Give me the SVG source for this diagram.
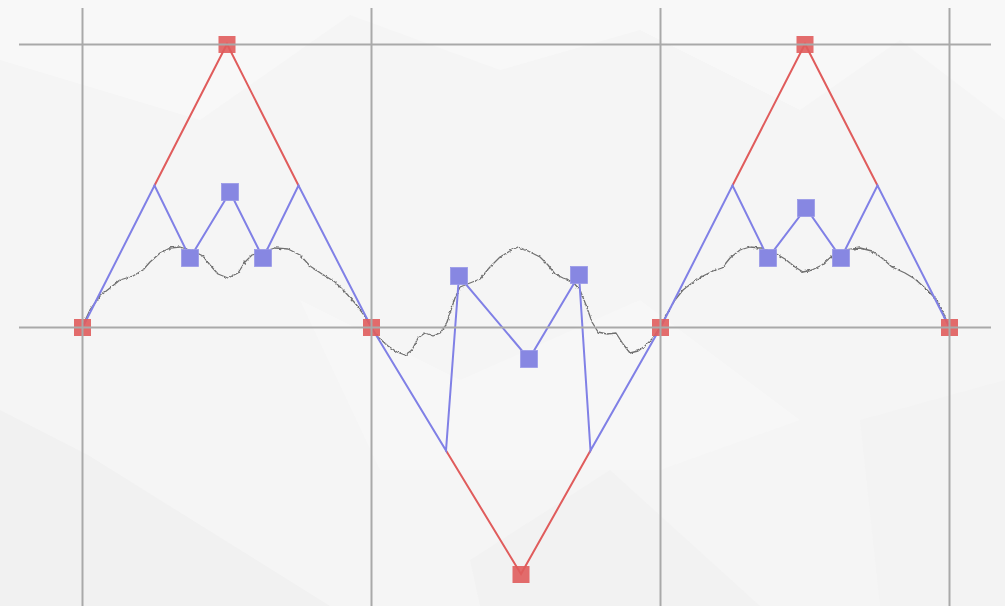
<svg xmlns="http://www.w3.org/2000/svg" width="1005" height="606" viewBox="0 0 1005 606">
<style>
.grid{stroke:#a9a9a9;stroke-width:2;fill:none}
.red{stroke:#e05c5c;stroke-width:2;fill:none;stroke-linecap:round}
.blue{stroke:#8080e6;stroke-width:2;fill:none;stroke-linejoin:miter;stroke-linecap:round}
.rsq{fill:#e05c5c;opacity:0.9}
.bsq{fill:#8787e2;stroke:#9a9ae8;stroke-width:0.8}
.noise{stroke:#707070;stroke-width:1.3;fill:none;stroke-linejoin:round}
</style>
<defs>
<filter id="rough" x="-5%" y="-30%" width="110%" height="160%">
<feTurbulence type="fractalNoise" baseFrequency="0.35" numOctaves="1" seed="4" result="t"/>
<feDisplacementMap in="SourceGraphic" in2="t" scale="3.2" xChannelSelector="R" yChannelSelector="G"/>
</filter>
</defs>
<g id="background">
<rect width="1005" height="606" fill="#f5f5f5"/>
<polygon points="0,0 1005,0 1005,120 900,40 800,110 640,30 500,70 350,15 200,120 0,60" fill="#f8f8f8"/>
<polygon points="0,410 88,455 330,606 0,606" fill="#f1f1f1"/>
<polygon points="300,300 460,380 640,300 800,420 660,470 380,470" fill="#f7f7f7"/>
<polygon points="470,560 610,470 760,606 480,606" fill="#f2f2f2"/>
<polygon points="860,420 1005,380 1005,606 880,606" fill="#f3f3f3"/>
</g>
<g id="connectors">
<polyline class="noise" filter="url(#rough)" points="82,327 90,310 100,296 110,288 120,280 133,276 143,270 150,262 160,253 170,248 180,247 193,251 203,256 210,265 218,274 228,278 238,273 245,262 252,255 262,252 275,248 288,249 300,255 310,266 322,274 335,282 345,292 355,303 364,315 371,327 378,337 388,346 397,352 405,355 412,350 418,338 425,333 433,336 440,333 446,325 450,313 455,298 460,287 470,283 480,279 490,267 500,257 510,251 518,247 528,251 540,257 548,265 555,274 563,278 572,281 580,290 586,305 592,322 598,332 607,334 616,333 623,344 630,353 638,351 645,346 653,338 660,327 668,312 675,300 683,290 692,283 703,276 713,271 722,268 730,258 740,250 750,247 760,248 773,252 785,259 795,267 803,272 812,270 822,265 832,256 845,250 860,248 872,251 882,258 892,267 905,273 915,279 925,288 935,298 943,312 949,327"/>
<polyline class="red" points="154.5,185.5 227,44 298.5,185.5"/>
<polyline class="red" points="446,450.5 521,574 590.5,450.5"/>
<polyline class="red" points="732.5,185.5 805,44 877.5,185.5"/>
<polyline class="blue" points="82.5,327.5 154.5,185.5 190,258 230,192 263,258 298.5,185.5 371.5,327.5"/>
<polyline class="blue" points="371.5,327.5 446,450.5 459,276 529,359 579,275 590.5,450.5 660.5,327.5"/>
<polyline class="blue" points="660.5,327.5 732.5,185.5 768,258 806,208 841,258 877.5,185.5 949.5,327.5"/>
</g>
<g id="node-r1"><rect class="rsq" x="218.5" y="36" width="17" height="17"/></g>
<g id="node-r2"><rect class="rsq" x="796.5" y="36" width="17" height="17"/></g>
<g id="node-r3"><rect class="rsq" x="512.5" y="566" width="17" height="17"/></g>
<g id="node-a1"><rect class="rsq" x="74" y="319" width="17" height="17" opacity="0.8"/></g>
<g id="node-a2"><rect class="rsq" x="363" y="319" width="17" height="17" opacity="0.8"/></g>
<g id="node-a3"><rect class="rsq" x="652" y="319" width="17" height="17" opacity="0.8"/></g>
<g id="node-a4"><rect class="rsq" x="941" y="319" width="17" height="17" opacity="0.8"/></g>
<g id="grid">
<line class="grid" x1="82.5" y1="8" x2="82.5" y2="606"/>
<line class="grid" x1="371.5" y1="8" x2="371.5" y2="606"/>
<line class="grid" x1="660.5" y1="8" x2="660.5" y2="606"/>
<line class="grid" x1="949.5" y1="8" x2="949.5" y2="606"/>
<line class="grid" x1="19" y1="44.5" x2="991" y2="44.5"/>
<line class="grid" x1="19" y1="327.5" x2="991" y2="327.5"/>
</g>
<g id="node-b1"><rect class="bsq" x="221.5" y="183.5" width="17" height="17"/></g>
<g id="node-b2"><rect class="bsq" x="181.5" y="249.5" width="17" height="17"/></g>
<g id="node-b3"><rect class="bsq" x="254.5" y="249.5" width="17" height="17"/></g>
<g id="node-b4"><rect class="bsq" x="450.5" y="267.5" width="17" height="17"/></g>
<g id="node-b5"><rect class="bsq" x="520.5" y="350.5" width="17" height="17"/></g>
<g id="node-b6"><rect class="bsq" x="570.5" y="266.5" width="17" height="17"/></g>
<g id="node-b7"><rect class="bsq" x="797.5" y="199.5" width="17" height="17"/></g>
<g id="node-b8"><rect class="bsq" x="759.5" y="249.5" width="17" height="17"/></g>
<g id="node-b9"><rect class="bsq" x="832.5" y="249.5" width="17" height="17"/></g>
</svg>
